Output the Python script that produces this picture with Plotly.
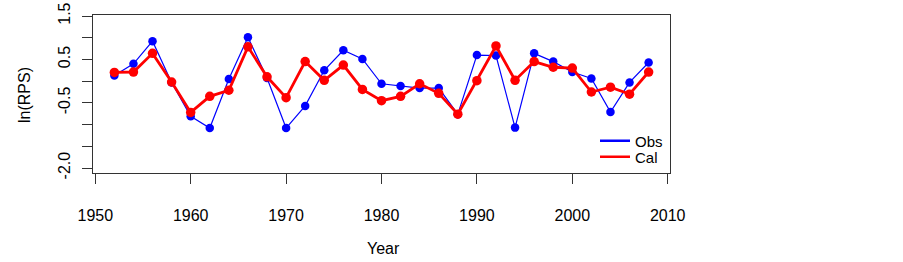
import plotly.graph_objects as go

years = [1952, 1954, 1956, 1958, 1960, 1962, 1964, 1966, 1968, 1970,
         1972, 1974, 1976, 1978, 1980, 1982, 1984, 1986, 1988, 1990,
         1992, 1994, 1996, 1998, 2000, 2002, 2004, 2006, 2008]
obs = [0.13, 0.40, 0.92, -0.03, -0.81, -1.08, 0.05, 1.01, 0.07, -1.08,
       -0.57, 0.25, 0.71, 0.51, -0.06, -0.11, -0.16, -0.16, -0.76, 0.60,
       0.59, -1.07, 0.64, 0.45, 0.21, 0.06, -0.71, -0.03, 0.43]
cal = [0.20, 0.21, 0.64, -0.02, -0.72, -0.35, -0.21, 0.79, 0.10, -0.38,
       0.45, 0.02, 0.37, -0.19, -0.45, -0.35, -0.06, -0.28, -0.76, 0.01,
       0.81, 0.02, 0.45, 0.32, 0.30, -0.25, -0.14, -0.30, 0.21]

xticks = [1950, 1960, 1970, 1980, 1990, 2000, 2010]
yticks = [-2.0, -1.5, -1.0, -0.5, 0.0, 0.5, 1.0, 1.5]
ylabels = ["-2.0", "", "", "-0.5", "", "0.5", "", "1.5"]

FONT = "Liberation Sans, Arial, sans-serif"
AX = "#333333"

# page body margin is removed (post_script), so window pixels = figure pixels
W, H = 903, 262
PL, PR, PT, PB = 93, 670, 15, 173          # plot box in window pixels
L, R, T, B = PL, W - PR, PT, H - PB
pw, ph = W - L - R, H - T - B


def px(xw):
    return (xw - L) / pw


def py(yw):
    return (H - B - yw) / ph


fig = go.Figure()
fig.add_trace(go.Scatter(x=years, y=obs, mode="lines+markers",
                         line=dict(color="#0000FF", width=1.2),
                         marker=dict(color="#0000FF", size=8.5),
                         showlegend=False))
fig.add_trace(go.Scatter(x=years, y=cal, mode="lines+markers",
                         line=dict(color="#FF0000", width=2.8),
                         marker=dict(color="#FF0000", size=9.5),
                         showlegend=False))
# legend entries (lines only)
fig.add_trace(go.Scatter(x=[None], y=[None], mode="lines", name="Obs",
                         line=dict(color="#0000FF", width=2.5),
                         legend="legend"))
fig.add_trace(go.Scatter(x=[None], y=[None], mode="lines", name="Cal",
                         line=dict(color="#FF0000", width=2.5),
                         legend="legend2"))

leg_common = dict(xanchor="left", yanchor="middle",
                  bgcolor="rgba(0,0,0,0)", borderwidth=0,
                  font=dict(size=15), itemwidth=30)

fig.update_layout(
    width=W, height=H,
    margin=dict(l=L, r=R, t=T, b=B, autoexpand=False),
    paper_bgcolor="white", plot_bgcolor="white",
    font=dict(family=FONT, size=16, color="black"),
    showlegend=True,
    legend=dict(x=px(595), y=py(141), **leg_common),
    legend2=dict(x=px(595), y=py(157), **leg_common),
    xaxis=dict(range=[1949.76, 2010.24], tickvals=xticks,
               ticktext=[str(v) for v in xticks], automargin=False,
               ticks="outside", ticklen=10, tickcolor=AX, tickwidth=1,
               showline=True, linecolor=AX, linewidth=1, mirror=True,
               showgrid=False, zeroline=False, ticklabelstandoff=18,
               ticklabeloverflow="allow"),
    yaxis=dict(range=[-2.115, 1.523], tickvals=yticks, ticktext=ylabels,
               tickangle=-90, automargin=False,
               ticks="outside", ticklen=10, tickcolor=AX, tickwidth=1,
               showline=True, linecolor=AX, linewidth=1, mirror=True,
               showgrid=False, zeroline=False, ticklabelstandoff=6,
               ticklabeloverflow="allow"),
    annotations=[
        dict(text="Year", xref="paper", yref="paper",
             x=px(383), y=py(249),
             xanchor="center", yanchor="middle",
             showarrow=False, font=dict(size=16)),
        dict(text="ln(RPS)", xref="paper", yref="paper",
             x=px(24), y=py(95),
             xanchor="center", yanchor="middle", textangle=-90,
             showarrow=False, font=dict(size=16)),
    ],
)

fig.write_html("out.html",
               config={"displayModeBar": False},
               post_script="document.body.style.margin='0px';"
                           "document.body.style.overflow='hidden';")
